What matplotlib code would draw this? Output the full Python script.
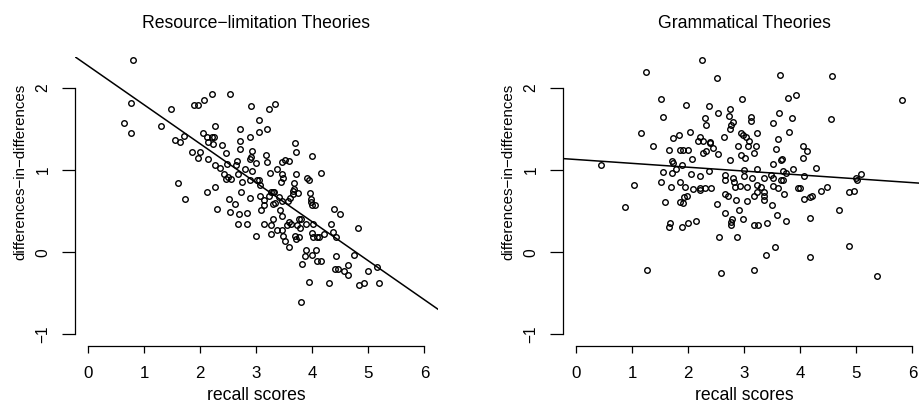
import matplotlib
matplotlib.use("Agg")
import matplotlib.pyplot as plt

plt.rcParams["font.family"] = ["Liberation Sans", "DejaVu Sans"]

# recall score vs. differences-in-differences, one point per item
left_x = [0.80, 0.76, 0.64, 0.77, 1.30, 1.48, 1.54, 1.64, 1.70, 1.88, 1.95, 1.85, 1.95,
          1.60, 1.73,
          2.07, 2.21, 2.53, 2.91, 3.23, 3.33, 3.04, 2.26, 2.71, 3.19, 2.05, 2.88, 3.04,
          2.11, 2.20, 2.24, 2.13, 2.22, 2.71, 2.39, 3.69, 2.71, 2.92, 2.46, 3.71, 1.99,
          2.90, 2.88, 3.17, 4.00, 2.14, 2.66, 2.48, 3.00, 3.19, 3.45, 3.52, 3.59, 2.26,
          2.35, 2.63, 2.79, 3.36, 2.92, 3.24, 2.43, 2.49, 2.46, 2.54, 2.68, 3.46, 3.48,
          3.44, 3.71, 4.16, 3.91, 3.94, 2.89, 3.01, 3.05, 2.75, 3.68,
          2.26, 2.12, 3.07, 2.73, 3.29, 3.31, 3.65, 3.68, 3.75, 3.96, 2.52, 2.62, 2.30,
          2.89, 3.07, 3.14, 3.22, 3.26, 3.13, 3.30, 3.33, 3.41, 3.45, 3.57, 3.60, 3.66,
          3.97, 3.97, 4.00, 4.04, 3.08, 3.42, 2.53, 2.69, 2.83, 2.67, 2.83, 2.99, 3.13,
          3.26, 3.29, 3.26, 3.45, 3.45, 3.36, 3.48, 3.52, 3.58, 3.55, 3.59, 3.62, 3.77,
          3.80, 3.73, 3.78, 3.69, 3.71, 3.77, 3.89, 4.02, 4.00, 4.02, 4.09, 4.12, 4.21,
          3.88, 3.86, 3.81, 4.07, 4.00, 4.08, 4.15, 3.94, 3.80, 4.30, 4.33, 4.37, 4.42,
          4.38, 4.50, 4.43, 4.41, 4.45, 4.57, 4.63, 4.64, 4.74, 4.82, 4.83, 4.92, 5.00,
          5.15, 5.19]
left_y = [2.34, 1.82, 1.58, 1.45, 1.54, 1.75, 1.37, 1.34, 1.42, 1.79, 1.79, 1.22, 1.15,
          0.84, 0.65,
          1.85, 1.93, 1.93, 1.78, 1.75, 1.81, 1.61, 1.54, 1.50, 1.50, 1.45, 1.41, 1.46,
          1.40, 1.40, 1.40, 1.34, 1.32, 1.35, 1.31, 1.33, 1.26, 1.23, 1.21, 1.22, 1.22,
          1.16, 1.14, 1.18, 1.17, 1.14, 1.11, 1.08, 1.09, 1.10, 1.10, 1.13, 1.11, 1.06,
          1.03, 1.06, 1.02, 1.01, 0.99, 0.97, 0.95, 0.92, 0.89, 0.89, 0.95, 0.95, 0.90,
          0.86, 0.95, 0.96, 0.90, 0.88, 0.88, 0.88, 0.88, 0.85, 0.84,
          0.80, 0.74, 0.82, 0.74, 0.74, 0.73, 0.75, 0.77, 0.72, 0.72, 0.65, 0.59, 0.53,
          0.66, 0.68, 0.64, 0.68, 0.73, 0.58, 0.59, 0.60, 0.67, 0.62, 0.63, 0.66, 0.71,
          0.65, 0.61, 0.58, 0.57, 0.52, 0.52, 0.49, 0.46, 0.48, 0.34, 0.34, 0.20, 0.34,
          0.33, 0.41, 0.22, 0.44, 0.27, 0.27, 0.20, 0.14, 0.06, 0.33, 0.37, 0.34, 0.41,
          0.41, 0.33, 0.29, 0.20, 0.16, 0.19, 0.34, 0.34, 0.24, 0.18, 0.18, 0.18, 0.22,
          0.03, -0.05, -0.14, 0.03, -0.04, -0.11, -0.11, -0.36, -0.61, -0.37, 0.34, 0.25, 0.19,
          0.53, 0.47, -0.05, -0.20, -0.21, -0.23, -0.15, -0.28, -0.04, 0.29, -0.40, -0.37, -0.23,
          -0.18, -0.37]

right_x = [1.24, 1.51, 1.54, 1.96, 1.15, 1.36, 1.73, 1.83, 2.03, 1.65, 1.85, 1.91, 1.99,
           2.07, 1.71, 1.72, 1.88, 1.78, 1.55, 1.71, 2.05, 0.44, 2.17,
           2.25, 2.51, 3.63, 4.57, 5.82, 2.96, 3.78, 3.93, 2.36, 2.29, 2.32, 2.53, 2.72,
           2.75, 2.79, 2.77, 2.75, 3.11, 3.12, 3.61, 3.85, 3.51, 4.54, 3.80, 3.22, 2.94,
           2.97, 3.03, 2.63, 3.09, 2.89, 3.06, 3.21, 3.60, 2.21, 2.27, 2.38, 2.39, 2.44,
           2.32, 2.26, 2.53, 2.75, 2.94, 3.01, 3.17, 3.56, 4.04, 4.11, 4.05, 3.52, 3.65,
           3.68, 3.87, 4.28, 3.00, 3.22, 3.69, 3.74, 2.36, 2.21, 2.65, 2.65, 2.80, 2.81,
           2.99, 3.14, 3.35, 3.47, 3.51, 4.06, 5.00, 5.01, 5.08, 3.65, 3.69,
           1.03, 1.51, 1.69, 1.85, 1.94, 2.09, 2.20, 1.97, 1.93, 1.85, 1.91, 1.58, 0.87,
           1.67, 1.66, 1.88, 2.00, 2.14, 1.27,
           2.21, 2.29, 2.41, 2.83, 2.93, 3.05, 3.22, 3.29, 3.23, 3.35, 3.35, 3.35, 3.52,
           3.60, 3.71, 3.96, 3.99, 4.37, 4.48, 4.87, 4.95, 4.07, 4.17, 4.21, 2.66, 2.70,
           2.85, 3.04, 3.17, 2.52, 3.49, 2.66, 2.91, 2.78, 2.77, 2.76, 2.97, 3.17, 3.24,
           3.40, 3.58, 3.75, 4.17, 4.69, 2.55, 2.87, 3.38, 3.54, 4.17, 4.87, 2.59, 3.17,
           5.36]
right_y = [2.20, 1.87, 1.65, 1.80, 1.45, 1.29, 1.39, 1.43, 1.46, 1.24, 1.24, 1.24, 1.24,
           1.14, 1.11, 1.09, 1.06, 1.01, 0.98, 0.97, 0.95, 1.06, 1.36,
           2.34, 2.12, 2.16, 2.15, 1.86, 1.87, 1.88, 1.92, 1.78, 1.64, 1.55, 1.70, 1.66,
           1.74, 1.59, 1.55, 1.50, 1.65, 1.60, 1.70, 1.64, 1.57, 1.62, 1.47, 1.45, 1.45,
           1.43, 1.41, 1.41, 1.35, 1.30, 1.30, 1.30, 1.38, 1.41, 1.35, 1.34, 1.33, 1.27,
           1.23, 1.21, 1.20, 1.13, 1.19, 1.15, 1.21, 1.26, 1.30, 1.23, 1.15, 1.08, 1.13,
           1.14, 1.01, 1.03, 1.00, 1.01, 0.99, 0.96, 0.99, 0.93, 0.94, 0.88, 0.90, 0.86,
           0.93, 0.90, 0.90, 0.94, 0.91, 0.93, 0.91, 0.88, 0.95, 0.88, 0.88,
           0.82, 0.85, 0.79, 0.86, 0.79, 0.77, 0.76, 0.69, 0.67, 0.61, 0.60, 0.61, 0.55,
           0.36, 0.31, 0.31, 0.36, 0.38, -0.22,
           0.78, 0.78, 0.78, 0.80, 0.81, 0.79, 0.82, 0.79, 0.73, 0.73, 0.69, 0.64, 0.81,
           0.78, 0.71, 0.78, 0.78, 0.75, 0.79, 0.74, 0.75, 0.65, 0.67, 0.69, 0.71, 0.68,
           0.64, 0.63, 0.68, 0.59, 0.58, 0.48, 0.52, 0.40, 0.37, 0.33, 0.40, 0.33, 0.33,
           0.35, 0.45, 0.38, 0.42, 0.52, 0.19, 0.18, -0.03, 0.06, -0.06, 0.07, -0.25, -0.22,
           -0.29]

# fitted lines (intercept, slope)
left_fit = (2.27, -0.475)
right_fit = (1.13, -0.047)

titles = ["Resource\u2212limitation Theories", "Grammatical Theories"]
x_ticks = [0, 1, 2, 3, 4, 5, 6]
y_ticks = [-1, 0, 1, 2]
y_tick_labels = ["\u22121", "0", "1", "2"]

W, H = 919, 403
XLIM = (-0.24, 6.24)
YLIM = (-1.14, 2.38)

fig = plt.figure(figsize=(W / 100, H / 100), dpi=100)

panels = [
    (74.9, left_x, left_y, left_fit, titles[0]),
    (562.9, right_x, right_y, right_fit, titles[1]),
]

for x0, xs, ys, (b0, b1), title in panels:
    top, bottom, width = 57.0, 345.7, 362.9
    ax = fig.add_axes([x0 / W, (H - bottom) / H, width / W, (bottom - top) / H])
    ax.set_xlim(*XLIM)
    ax.set_ylim(*YLIM)

    ax.plot(xs, ys, "o", ms=4.0, mfc="none", mec="black", mew=1.0, clip_on=False)
    ax.axline((0, b0), slope=b1, color="black", lw=1.1)

    for side in ["top", "right"]:
        ax.spines[side].set_visible(False)
    ax.spines["bottom"].set_bounds(0, 6)
    ax.spines["left"].set_bounds(-1, 2)
    for side in ["bottom", "left"]:
        ax.spines[side].set_linewidth(0.9)

    ax.set_xticks(x_ticks)
    ax.set_xticklabels([str(t) for t in x_ticks], fontsize=12.2)
    ax.set_yticks(y_ticks)
    ax.set_yticklabels(y_tick_labels, fontsize=11.2, rotation=90, va="center")
    ax.tick_params(axis="x", direction="out", length=4.8, width=0.9, pad=9.5)
    ax.tick_params(axis="y", direction="out", length=9.4, width=0.9, pad=8.0)

    cx = (x0 + width / 2) / W
    fig.text(cx, (H - 27.7) / H, title, ha="center", va="baseline", fontsize=12.7)
    fig.text(cx, (H - 400) / H, "recall scores", ha="center", va="baseline", fontsize=12.7)
    fig.text((x0 - 55) / W, (H - 171.5) / H, "differences\u2212in\u2212differences",
             rotation=90, ha="center", va="center", fontsize=10.8)

fig.savefig("out.png", dpi=100)
